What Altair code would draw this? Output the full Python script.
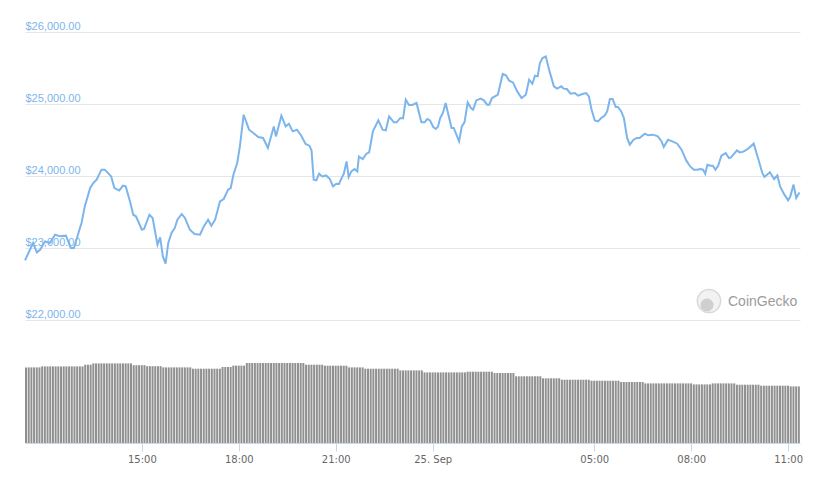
import altair as alt
import pandas as pd

# Time origin: 24 Sep, 11:23 (hours since 24 Sep 00:00)
start_hour = 11 + 23 / 60

# Price series: minutes after 11:23 and price in USD
minutes = [
    0, 15, 22, 28, 37, 46, 56, 65, 76, 85,
    91, 102, 105, 111, 121, 127, 133, 142, 148, 160,
    166, 175, 182, 187, 195, 201, 206, 217, 221, 231,
    237, 246, 251, 256, 261, 266, 272, 278, 283, 291,
    297, 306, 315, 325, 332, 340, 346, 353, 362, 369,
    377, 382, 387, 394, 399, 406, 416, 424, 433, 442,
    451, 462, 466, 476, 484, 490, 497, 505, 513, 521,
    528, 532, 536, 541, 546, 552, 559, 566, 572, 578,
    583, 588, 592, 597, 601, 606, 612, 617, 620, 627,
    634, 639, 646, 656, 664, 670, 676, 685, 690, 697,
    702, 707, 713, 719, 727, 736, 742, 747, 752, 758,
    763, 767, 771, 776, 781, 792, 796, 806, 811, 816,
    822, 828, 832, 838, 846, 852, 858, 862, 867, 875,
    878, 887, 893, 899, 906, 914, 922, 930, 936, 942,
    947, 952, 956, 961, 967, 974, 982, 988, 996, 1000,
    1006, 1013, 1021, 1027, 1035, 1042, 1047, 1052, 1058, 1064,
    1070, 1076, 1081, 1086, 1091, 1097, 1101, 1107, 1112, 1118,
    1123, 1130, 1136, 1141, 1151, 1157, 1166, 1175, 1182, 1186,
    1194, 1202, 1211, 1219, 1228, 1235, 1242, 1248, 1254, 1259,
    1263, 1267, 1273, 1277, 1282, 1287, 1293, 1301, 1307, 1311,
    1322, 1327, 1334, 1342, 1353, 1361, 1369, 1373, 1383, 1391,
    1397, 1402, 1410, 1417, 1421, 1427, 1432, 1438,
]
prices = [
    22828, 23069, 22939, 22976, 23092, 23069, 23185, 23162, 23171, 23000,
    23000, 23278, 23347, 23578, 23833, 23903, 23949, 24088, 24088, 23994,
    23833, 23800, 23865, 23856, 23647, 23462, 23440, 23254, 23264, 23462,
    23417, 23046, 23148, 22883, 22782, 23069, 23208, 23278, 23393, 23472,
    23417, 23254, 23194, 23185, 23300, 23393, 23310, 23393, 23647, 23681,
    23810, 23833, 24018, 24181, 24411, 24851, 24643, 24597, 24542, 24528,
    24389, 24689, 24550, 24837, 24689, 24726, 24620, 24643, 24560, 24444,
    24421, 24356, 23949, 23939, 24032, 23994, 24008, 23958, 23856, 23893,
    23889, 23972, 24032, 24203, 23986, 24064, 24097, 24064, 24272, 24236,
    24310, 24328, 24620, 24772, 24643, 24633, 24828, 24745, 24745, 24806,
    24800, 25060, 24986, 24986, 25014, 24745, 24745, 24792, 24772, 24681,
    24653, 24689, 24806, 24875, 25014, 24667, 24667, 24481, 24689, 24745,
    25023, 24944, 24921, 25050, 25074, 25050, 24990, 24990, 25083, 25115,
    25129, 25417, 25398, 25324, 25300, 25175, 25083, 25129, 25337, 25282,
    25393, 25384, 25569, 25639, 25661, 25453, 25245, 25213, 25245, 25213,
    25208, 25143, 25152, 25115, 25138, 25152, 25106, 24921, 24772, 24758,
    24806, 24837, 24897, 25069, 25069, 24958, 24958, 24897, 24806, 24528,
    24435, 24504, 24528, 24528, 24588, 24565, 24574, 24550, 24481, 24403,
    24504, 24481, 24449, 24365, 24213, 24133, 24088, 24088, 24097, 24088,
    24032, 24157, 24143, 24143, 24088, 24143, 24282, 24319, 24249, 24258,
    24356, 24328, 24338, 24375, 24449, 24249, 24042, 23986, 24051, 23958,
    24008, 23856, 23741, 23662, 23717, 23880, 23694, 23772,
]

# Volume: one bar per 5 minutes (USD billions)
bar_minutes = list(range(0, 1440, 5))
volumes = (
    [37.8] * 6 + [38.3] * 16 + [39.15] * 3 + [39.8] * 15 + [38.9] * 5 + [38.4] * 6
    + [37.8] * 11 + [37.15] * 11 + [38.0] * 4 + [38.7] * 5 + [40.0] * 22
    + [39.15] * 7 + [38.65] * 9 + [37.8] * 6 + [37.15] * 13 + [36.3] * 9
    + [35.3] * 16 + [35.65] * 10 + [35.0] * 8 + [33.35] * 10 + [32.35] * 7
    + [31.65] * 11 + [31.15] * 11 + [30.5] * 9 + [29.8] * 18 + [29.3] * 7
    + [29.8] * 9 + [29.15] * 9 + [28.65] * 11 + [28.3] * 4
)

tick_hours = [15, 18, 21, 24, 29, 32, 35]
price_ticks = [22000, 23000, 24000, 25000, 26000]

price_df = pd.DataFrame({"minute": minutes, "price": prices})
vol_df = pd.DataFrame({"minute": bar_minutes, "volume": volumes})

x_scale = alt.Scale(domain=[start_hour, start_hour + 1439 / 60], nice=False, zero=False)
x_axis = alt.Axis(
    values=tick_hours,
    labelExpr="datum.value == 24 ? '25. Sep' : ((datum.value % 24) < 10 ? '0' : '') + (datum.value % 24) + ':00'",
    grid=False,
    domainColor="#ccd6eb",
    tickColor="#ccd6eb",
    tickSize=8,
    labelColor="#666666",
    labelFontSize=10,
    labelFont="DejaVu Sans",
    labelPadding=3,
    labelFlush=False,
    title=None,
)

bars = (
    alt.Chart(vol_df)
    .transform_calculate(
        hour=f"{start_hour} + datum.minute / 60",
        hour2=f"{start_hour} + (datum.minute + 3.7) / 60",
    )
    .mark_bar(color="#909090", clip=True)
    .encode(
        x=alt.X("hour:Q", scale=x_scale, axis=x_axis),
        x2="hour2:Q",
        y=alt.Y("volume:Q", scale=alt.Scale(domain=[0, 205.5], nice=False), axis=None),
        y2=alt.datum(0),
    )
)

line = (
    alt.Chart(price_df)
    .transform_calculate(hour=f"{start_hour} + datum.minute / 60")
    .mark_line(color="#7cb5ec", strokeWidth=2)
    .encode(
        x=alt.X("hour:Q", scale=x_scale, axis=x_axis),
        y=alt.Y(
            "price:Q",
            scale=alt.Scale(domain=[26000 - 411 / 72 * 1000, 26000], nice=False, zero=False),
            axis=alt.Axis(
                values=price_ticks,
                format="$,.2f",
                grid=True,
                gridColor="#e6e6e6",
                domain=False,
                ticks=False,
                tickSize=0,
                labelAlign="left",
                labelBaseline="bottom",
                labelPadding=0,
                labelOffset=-1,
                labelColor="#7cb5ec",
                labelFontSize=11,
                labelFont="Liberation Sans",
                title=None,
            ),
        ),
    )
)

wm_df = pd.DataFrame({"t": ["CoinGecko"]})
logo = alt.Chart(wm_df).mark_circle(
    size=540, color="#f2f2f2", stroke="#d9d9d9", strokeWidth=1.5, opacity=1
).encode(x=alt.value(684), y=alt.value(269))
logo_head = alt.Chart(wm_df).mark_circle(
    size=170, color="#cfcfcf", opacity=1
).encode(x=alt.value(682), y=alt.value(273))
logo_text = alt.Chart(wm_df).mark_text(
    align="left", baseline="middle", fontSize=14, color="#9b9b9b", font="Liberation Sans"
).encode(x=alt.value(703), y=alt.value(270), text="t:N")

chart = (
    alt.layer(bars, line, logo, logo_head, logo_text)
    .resolve_scale(y="independent")
    .properties(
        width=775,
        height=411,
        padding={"left": 17, "top": 24, "right": 5, "bottom": 22},
        autosize=alt.AutoSizeParams(type="none"),
    )
    .configure_view(stroke=None)
)

chart.save("out.html", embed_options={"renderer": "svg", "actions": False})
